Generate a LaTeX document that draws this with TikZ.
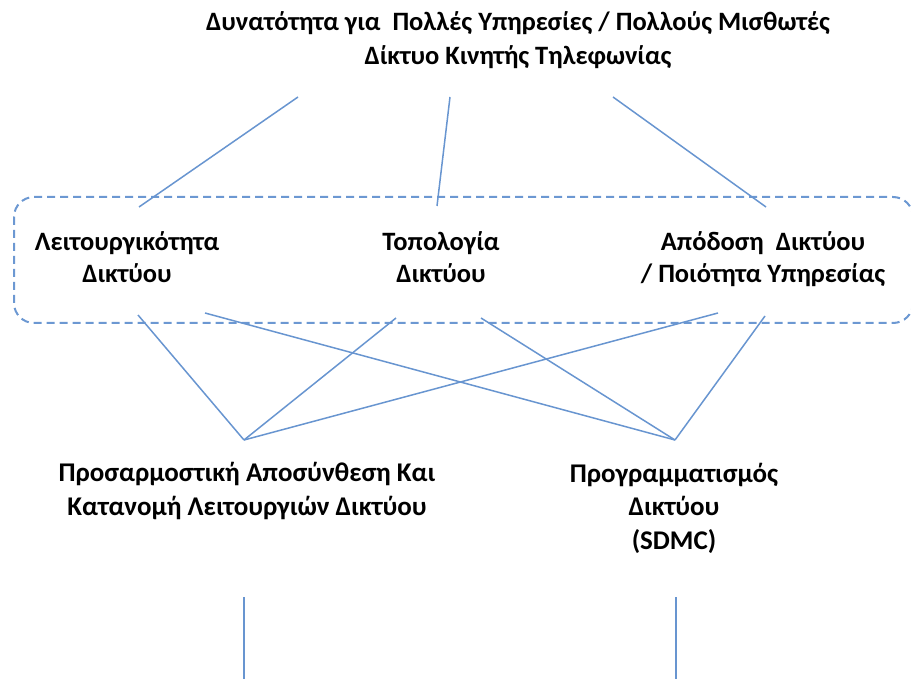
\documentclass[tikz,border=0pt]{standalone}
\usepackage{fontspec}
\setmainfont{Carlito}
\definecolor{linkblue}{RGB}{104,149,208}
\definecolor{frameblue}{RGB}{108,152,210}
\begin{document}
\begin{tikzpicture}[x=1pt,y=-1pt,
  link/.style={draw=linkblue, line width=1.5pt},
  frame/.style={draw=frameblue, line width=2pt, dash pattern=on 8pt off 5pt, rounded corners=20pt},
  lbl/.style={font=\bfseries\fontsize{26.5}{34}\selectfont, align=center, inner sep=0pt, text=black},
  boxlbl/.style={lbl, font=\bfseries\fontsize{26.5}{32}\selectfont},
  lowlbl/.style={lbl, font=\bfseries\fontsize{27}{33.5}\selectfont}]
\useasboundingbox (0,0) rectangle (911,679);
\clip (0,0) rectangle (911,679);

% labels
\node[lbl] (title) at (518,40) {Δυνατότητα για \ Πολλές Υπηρεσίες / Πολλούς Μισθωτές\\Δίκτυο Κινητής Τηλεφωνίας};
\node[boxlbl] (func) at (127,257) {Λειτουργικότητα\\Δικτύου};
\node[boxlbl] (topo) at (441,257) {Τοπολογία\\Δικτύου};
\node[boxlbl] (perf) at (763,259) {Απόδοση \ Δικτύου\\/ Ποιότητα Υπηρεσίας};
\node[lowlbl] (adapt) at (247,491) {Προσαρμοστική Αποσύνθεση Και\\Κατανομή Λειτουργιών Δικτύου};
\node[lowlbl] (prog) at (674,508) {Προγραμματισμός\\Δικτύου\\(SDMC)};

% dashed frame around the three aspects
\draw[frame] (14,197) rectangle (913,323);

% connector end points
\coordinate (t1) at (298,97);
\coordinate (t2) at (450,97);
\coordinate (t3) at (613,97);
\coordinate (fTop) at (139,207);
\coordinate (tTop) at (437,206);
\coordinate (pTop) at (766,207);
\coordinate (fB1) at (138,315);
\coordinate (fB2) at (205,313);
\coordinate (tB1) at (396,318);
\coordinate (tB2) at (481,318);
\coordinate (pB1) at (718,313);
\coordinate (pB2) at (765,316);
\coordinate (vA) at (244,440);
\coordinate (vP) at (675,440);
\coordinate (aDown) at (244,597);
\coordinate (pDown) at (676,597);
\coordinate (aEnd) at (244,679);
\coordinate (pEnd) at (676,679);

% from the title to the three aspects
\draw[link] (t1) -- (fTop);
\draw[link] (t2) -- (tTop);
\draw[link] (t3) -- (pTop);

% from the aspects to the two mechanisms
\draw[link] (fB1) -- (vA);
\draw[link] (tB1) -- (vA);
\draw[link] (pB1) -- (vA);
\draw[link] (fB2) -- (vP);
\draw[link] (tB2) -- (vP);
\draw[link] (pB2) -- (vP);

% downward continuations
\draw[link] (aDown) -- (aEnd);
\draw[link] (pDown) -- (pEnd);
\end{tikzpicture}
\end{document}
